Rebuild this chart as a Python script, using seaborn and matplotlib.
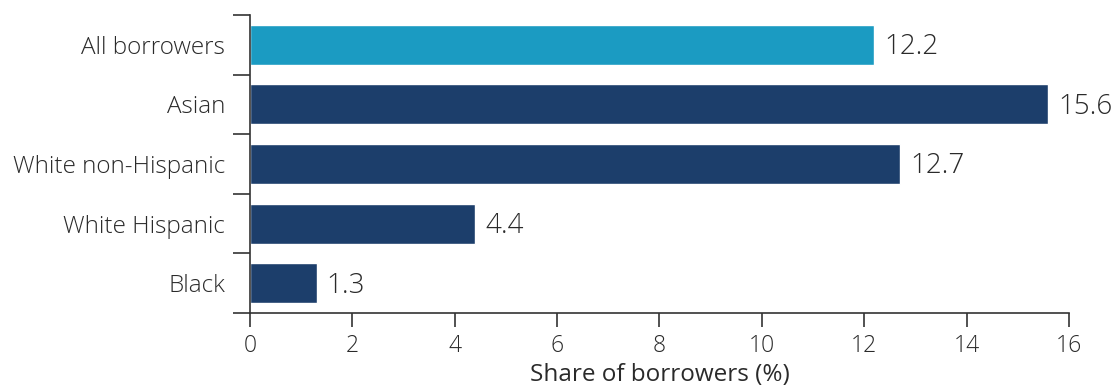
import matplotlib
matplotlib.use("Agg")

import numpy as np
import pandas as pd
import matplotlib.pyplot as plt
import seaborn as sns

# data
groups = ["All borrowers", "Asian", "White non-Hispanic", "White Hispanic", "Black"]
shares = [12.2, 15.6, 12.7, 4.4, 1.3]
bar_colors = ["#1b9bc2", "#1c3e6b", "#1c3e6b", "#1c3e6b", "#1c3e6b"]

df = pd.DataFrame({"group": groups, "share": shares})

sns.set_theme(style="white")
plt.rcParams["font.family"] = ["Open Sans", "DejaVu Sans"]
plt.rcParams["font.weight"] = "light"
text_color = "#2a2a2a"

fig = plt.figure(figsize=(11.15, 3.89), dpi=100)
ax = fig.add_axes([0.2242, 0.1954, 0.7345, 0.766])

sns.barplot(data=df, x="share", y="group", hue="group", palette=bar_colors,
            orient="h", width=0.67, saturation=1, legend=False, ax=ax)

# value labels to the right of each bar
for i, v in enumerate(shares):
    ax.text(v + 0.2, i + 0.04, f"{v:.1f}", va="center", ha="left",
            fontsize=20, color=text_color)

ax.set_xlim(0, 16)
ax.set_ylim(len(groups) - 0.5, -0.5)
ax.set_xticks(np.arange(0, 17, 2))
ax.set_yticks(np.arange(len(groups)))
ax.set_yticks(np.arange(len(groups) + 1) - 0.5, minor=True)

ax.tick_params(axis="y", which="major", length=0, pad=18, labelsize=17.5,
               labelcolor=text_color)
ax.tick_params(axis="y", which="minor", length=12, width=1.2, color="#333333",
               direction="out", left=True)
ax.tick_params(axis="x", which="major", length=10, width=1.2, color="#333333",
               direction="out", bottom=True, labelsize=16.5, labelcolor=text_color, pad=5)

ax.set_xlabel("Share of borrowers (%)", fontsize=17.5, color=text_color, labelpad=4)
ax.set_ylabel("")

sns.despine(ax=ax, top=True, right=True)
for side in ["left", "bottom"]:
    ax.spines[side].set_color("#333333")
    ax.spines[side].set_linewidth(1.2)

fig.savefig("out.png", dpi=100)
plt.close(fig)
